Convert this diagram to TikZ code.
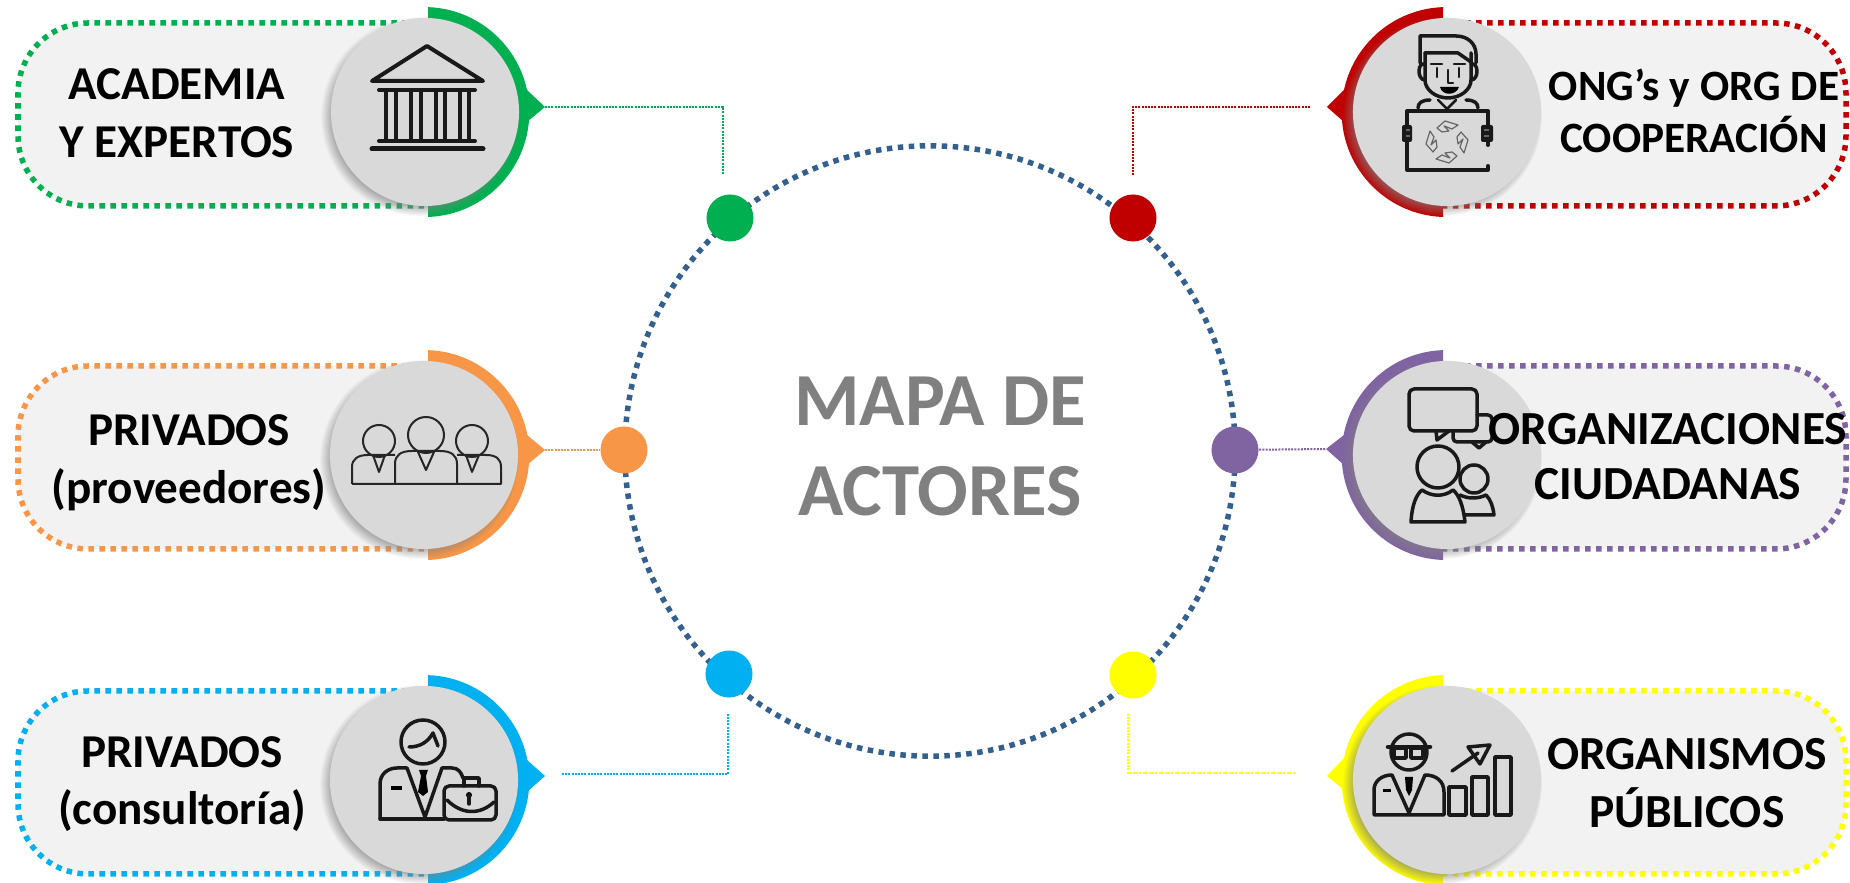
\documentclass[tikz,border=0pt]{standalone}
\usepackage{fontspec}
\setmainfont{Carlito}
\usetikzlibrary{shadows}
\usetikzlibrary{fadings}
\definecolor{acadcol}{HTML}{00B050}
\definecolor{provcol}{HTML}{F79646}
\definecolor{conscol}{HTML}{00B0F0}
\definecolor{ongcol}{HTML}{C00000}
\definecolor{ciucol}{HTML}{8064A2}
\definecolor{pubcol}{HTML}{FFFF00}
\definecolor{ringcol}{HTML}{34608F}
\tikzset{
  actorpill/.style={fill=black!5,line width=.055cm,dash pattern=on .055cm off .055cm},
  actorhub/.style={circle,fill=black!15,minimum size=1.88cm,inner sep=0pt,
    circular drop shadow={shadow xshift=-.045cm,shadow yshift=-.04cm,shadow scale=1.06,opacity=.8}},
  actordot/.style={circle,minimum size=.47cm,inner sep=0pt},
  actorlink/.style={line width=.02cm,dash pattern=on .02cm off .012cm},
  actorlabel/.style={align=center,inner sep=0pt,font=\bfseries\fontsize{13.4}{16.4}\selectfont},
  iconline/.style={line width=.035cm,line join=round,line cap=round,color=black!90},
  iconthin/.style={line width=.02cm,line join=round,color=black!85},
  handline/.style={line width=.012cm,line join=round,color=black!60},
}
\begin{document}
\begin{tikzpicture}[x=.01cm,y=-.01cm]
\useasboundingbox (0,0) rectangle (1850,883);
% centre
\node[circle,draw=ringcol,line width=.055cm,dash pattern=on .055cm off .055cm,minimum size=6.1cm,inner sep=0pt] (mapa) at (930,451) {};
\node[align=center,inner sep=0pt,text=black!50,font=\bfseries\fontsize{21.3}{25.6}\selectfont] (mapatext) at (940,446) {MAPA DE\\ACTORES};
\node[actordot,fill=acadcol] (dotacad) at (730,218) {};
\node[actordot,fill=provcol] (dotprov) at (624,450) {};
\node[actordot,fill=conscol] (dotcons) at (729,674) {};
\node[actordot,fill=ongcol] (dotong) at (1133,218) {};
\node[actordot,fill=ciucol] (dotciu) at (1235,450) {};
\node[actordot,fill=pubcol] (dotpub) at (1133,675) {};
% academia
\draw[actorpill,draw=acadcol] (430,23) [rounded corners=.7cm] -- (18,23) -- (18,206) [sharp corners] -- (430,206);
\fill[acadcol] (428,217) arc[start angle=88,end angle=-88,radius=105] -- cycle;
\fill[acadcol] (527,90) -- (545,107) -- (527,122) -- cycle;
\coordinate (tipacad) at (545,107);
\coordinate (bendacad) at (723,107);
\coordinate (endacad) at (723,175);
\draw[actorlink,acadcol] (tipacad) -- (bendacad) -- (endacad);
\node[actorhub] (hubacad) at (425,112) {};
\draw[iconline,line width=.04cm] (427,46) -- (372,81) -- (483,81) -- cycle;
\draw[iconline,line width=.04cm] (379,90) -- (475,90);
\foreach \x in {386,396,411,421,436,445,460,469} \draw[iconline] (\x,92) -- (\x,139);
\draw[iconline,line width=.04cm] (379,141) -- (475,141);
\draw[iconline,line width=.05cm] (372,149) -- (483,149);
\node[actorlabel] (labacad) at (177,113) {ACADEMIA\\Y EXPERTOS};
% proveedores
\draw[actorpill,draw=provcol] (430,366) [rounded corners=.7cm] -- (18,366) -- (18,549) [sharp corners] -- (430,549);
\fill[provcol] (428,560) arc[start angle=88,end angle=-88,radius=105] -- cycle;
\fill[provcol] (527,435) -- (545,450) -- (527,465) -- cycle;
\coordinate (tipprov) at (545,450);
\draw[actorlink,provcol] (tipprov) -- (dotprov);
\node[actorhub] (hubprov) at (424,455) {};
\draw[iconthin] (426,435) circle (18);
\draw[iconthin] (379,441) circle (16);
\draw[iconthin] (472,441) circle (16);
\draw[iconthin] (352,484) -- (352,467) .. controls (352,459) and (358,455) .. (368,455) -- (395,455);
\draw[iconthin] (395,484) -- (395,464) .. controls (395,455) and (401,451) .. (412,451) -- (440,451) .. controls (451,451) and (457,455) .. (457,464) -- (457,484);
\draw[iconthin] (457,455) -- (486,455) .. controls (496,455) and (501,459) .. (501,467) -- (501,484) -- (352,484);
\draw[iconthin] (418,452) -- (426,470) -- (434,452);
\draw[iconthin] (373,455) -- (379,472) -- (385,455);
\draw[iconthin] (466,455) -- (472,472) -- (479,455);
\node[actorlabel] (labprov) at (189,463) {PRIVADOS\\(proveedores)};
% consultoria
\draw[actorpill,draw=conscol] (430,691) [rounded corners=.7cm] -- (18,691) -- (18,874) [sharp corners] -- (430,874);
\fill[conscol] (428,885) arc[start angle=88,end angle=-88,radius=105] -- cycle;
\fill[conscol] (527,760) -- (545,776) -- (527,792) -- cycle;
\coordinate (tipcons) at (562,774);
\coordinate (bendcons) at (728,774);
\coordinate (endcons) at (728,714);
\draw[actorlink,conscol] (tipcons) -- (bendcons) -- (endcons);
\node[actorhub] (hubcons) at (424,780) {};
\draw[iconline] (423,742) circle (22);
\draw[iconline] (409,747) .. controls (420,747) and (428,742) .. (433,733) -- (438,746);
\draw[iconline] (380,819) -- (380,784) .. controls (380,774) and (388,768) .. (397,768) -- (407,768) -- (425,817) -- (442,768) -- (452,768) .. controls (458,768) and (461,772) .. (463,778);
\draw[iconline] (380,819) -- (444,819);
\fill (391,786) rectangle (402,790);
\fill (419,770) -- (428,770) -- (426,776) -- (428,792) -- (423,796) -- (418,792) -- (421,776) -- cycle;
\draw[iconline,rounded corners=.05cm] (444,786) rectangle (496,820);
\draw[iconline] (464,786) -- (464,778) -- (479,778) -- (479,786);
\draw[iconline] (447,800) .. controls (462,815) and (480,815) .. (494,802);
\fill (469,795) circle (3);
\draw[iconline] (469,795) -- (469,804);
\node[actorlabel] (labcons) at (182,784) {PRIVADOS\\(consultoría)};
% ong
\draw[actorpill,draw=ongcol] (1443,23) [rounded corners=.7cm] -- (1846,23) -- (1846,206) [sharp corners] -- (1443,206);
\fill[ongcol] (1443,217) arc[start angle=92,end angle=268,radius=105] -- cycle;
\fill[ongcol] (1344,90) -- (1327,107) -- (1344,122) -- cycle;
\coordinate (tipong) at (1310,107);
\coordinate (bendong) at (1133,107);
\coordinate (endong) at (1133,175);
\draw[actorlink,ongcol] (tipong) -- (bendong) -- (endong);
\node[actorhub] (hubong) at (1447,112) {};
\draw[iconline] (1425,53) -- (1425,80) .. controls (1425,90) and (1436,98) .. (1448,98) .. controls (1460,98) and (1471,90) .. (1471,80) -- (1471,53);
\draw[iconline] (1420,63) -- (1420,36) -- (1456,36) .. controls (1468,36) and (1476,44) .. (1476,54) -- (1476,63);
\draw[iconline] (1425,53) -- (1458,53) -- (1471,62);
\draw[iconline] (1425,64) .. controls (1417,62) and (1417,80) .. (1425,80);
\draw[iconline] (1471,64) .. controls (1479,62) and (1479,80) .. (1471,80);
\draw[iconline,line width=.025cm] (1437,68) -- (1437,77);
\draw[iconline,line width=.025cm] (1459,68) -- (1459,77);
\draw[iconline,line width=.025cm] (1431,64) -- (1442,64);
\draw[iconline,line width=.025cm] (1454,64) -- (1465,64);
\draw[iconline,line width=.025cm] (1448,70) -- (1448,83) -- (1453,83);
\fill (1440,87) .. controls (1442,96) and (1456,96) .. (1459,87) -- cycle;
\draw[iconline] (1418,108) .. controls (1418,103) and (1422,100) .. (1430,100);
\draw[iconline] (1478,108) .. controls (1478,103) and (1474,100) .. (1466,100);
\draw[iconline,line width=.025cm] (1438,100) -- (1447,109) -- (1456,100);
\draw[iconline,line width=.04cm] (1488,145) -- (1488,111) -- (1407,111) -- (1407,170) -- (1488,170) -- (1488,166);
\fill[black!90,rounded corners=.02cm] (1402,125) rectangle (1412,142);
\fill[black!90,rounded corners=.02cm] (1481,125) rectangle (1493,142);
\draw[handline] (1406,130) -- (1410,130);
\draw[handline] (1406,136) -- (1410,136);
\draw[handline] (1484,130) -- (1489,130);
\draw[handline] (1484,136) -- (1489,136);
\foreach \a in {0,90,180,270} \draw[handline,rotate around={\a:(1447,142)}] (1437,128) -- (1445,121) -- (1458,125) -- (1452,129) -- (1444,126) -- (1449,131) -- (1442,132) -- cycle;
\node[actorlabel,font=\bfseries\fontsize{12.3}{14.8}\selectfont] (labong) at (1694,111) {ONG’s y ORG DE\\COOPERACIÓN};
% ciudadanas
\draw[actorpill,draw=ciucol] (1443,366) [rounded corners=.7cm] -- (1846,366) -- (1846,549) [sharp corners] -- (1443,549);
\fill[ciucol] (1443,560) arc[start angle=92,end angle=268,radius=105] -- cycle;
\fill[ciucol] (1344,435) -- (1326,449) -- (1344,465) -- cycle;
\coordinate (tipciu) at (1326,449);
\draw[actorlink,ciucol] (dotciu) -- (tipciu);
\node[actorhub] (hubciu) at (1447,455) {};
\draw[iconline,rounded corners=.05cm] (1409,389) rectangle (1477,431);
\draw[iconline] (1436,431) -- (1437,440) -- (1449,431);
\draw[iconline,rounded corners=.04cm] (1477,415) -- (1492,415) -- (1492,442) -- (1453,442) -- (1453,431);
\draw[iconline] (1472,442) -- (1479,448) -- (1486,442);
\draw[iconline] (1438,467) circle (21);
\draw[iconline] (1474,479) circle (14);
\draw[iconline] (1411,522) .. controls (1412,505) and (1416,495) .. (1422,490) .. controls (1432,497) and (1444,497) .. (1453,490) .. controls (1459,495) and (1463,505) .. (1465,522) -- cycle;
\draw[iconline] (1460,495) .. controls (1468,499) and (1478,499) .. (1486,495) .. controls (1491,500) and (1493,507) .. (1494,515) -- (1465,515);
\node[actorlabel,font=\bfseries\fontsize{13.5}{15.7}\selectfont] (labciu) at (1668,457) {ORGANIZACIONES\\CIUDADANAS};
% publicos
\draw[actorpill,draw=pubcol] (1443,691) [rounded corners=.7cm] -- (1846,691) -- (1846,874) [sharp corners] -- (1443,874);
\fill[pubcol] (1443,885) arc[start angle=92,end angle=268,radius=105] -- cycle;
\fill[pubcol] (1344,758) -- (1327,776) -- (1344,790) -- cycle;
\coordinate (tippub) at (1295,773);
\coordinate (bendpub) at (1128,773);
\coordinate (endpub) at (1128,713);
\draw[actorlink,pubcol] (tippub) -- (bendpub) -- (endpub);
\node[actorhub] (hubpub) at (1447,780) {};
\draw[iconline] (1409,752) circle (18);
\draw[iconline,line width=.045cm] (1388,747) -- (1430,747);
\draw[iconline] (1394,748) rectangle (1406,758);
\draw[iconline] (1411,748) rectangle (1423,758);
\draw[iconline] (1374,815) -- (1374,790) .. controls (1374,781) and (1382,775) .. (1392,775) -- (1409,813) -- (1425,775) .. controls (1436,775) and (1444,781) .. (1444,792) -- (1444,815) -- cycle;
\fill (1405,777) -- (1413,777) -- (1412,790) -- (1409,796) -- (1406,790) -- cycle;
\fill (1383,789) rectangle (1391,792);
\draw[iconline] (1449,787) rectangle (1466,815);
\draw[iconline] (1472,777) rectangle (1488,815);
\draw[iconline] (1495,757) rectangle (1511,815);
\draw[iconline] (1452,771) -- (1478,753);
\draw[iconline] (1468,747) -- (1490,745) -- (1480,764) -- cycle;
\node[actorlabel,font=\bfseries\fontsize{13.5}{16.4}\selectfont] (labpub) at (1687,783) {ORGANISMOS\\PÚBLICOS};
\end{tikzpicture}
\end{document}
